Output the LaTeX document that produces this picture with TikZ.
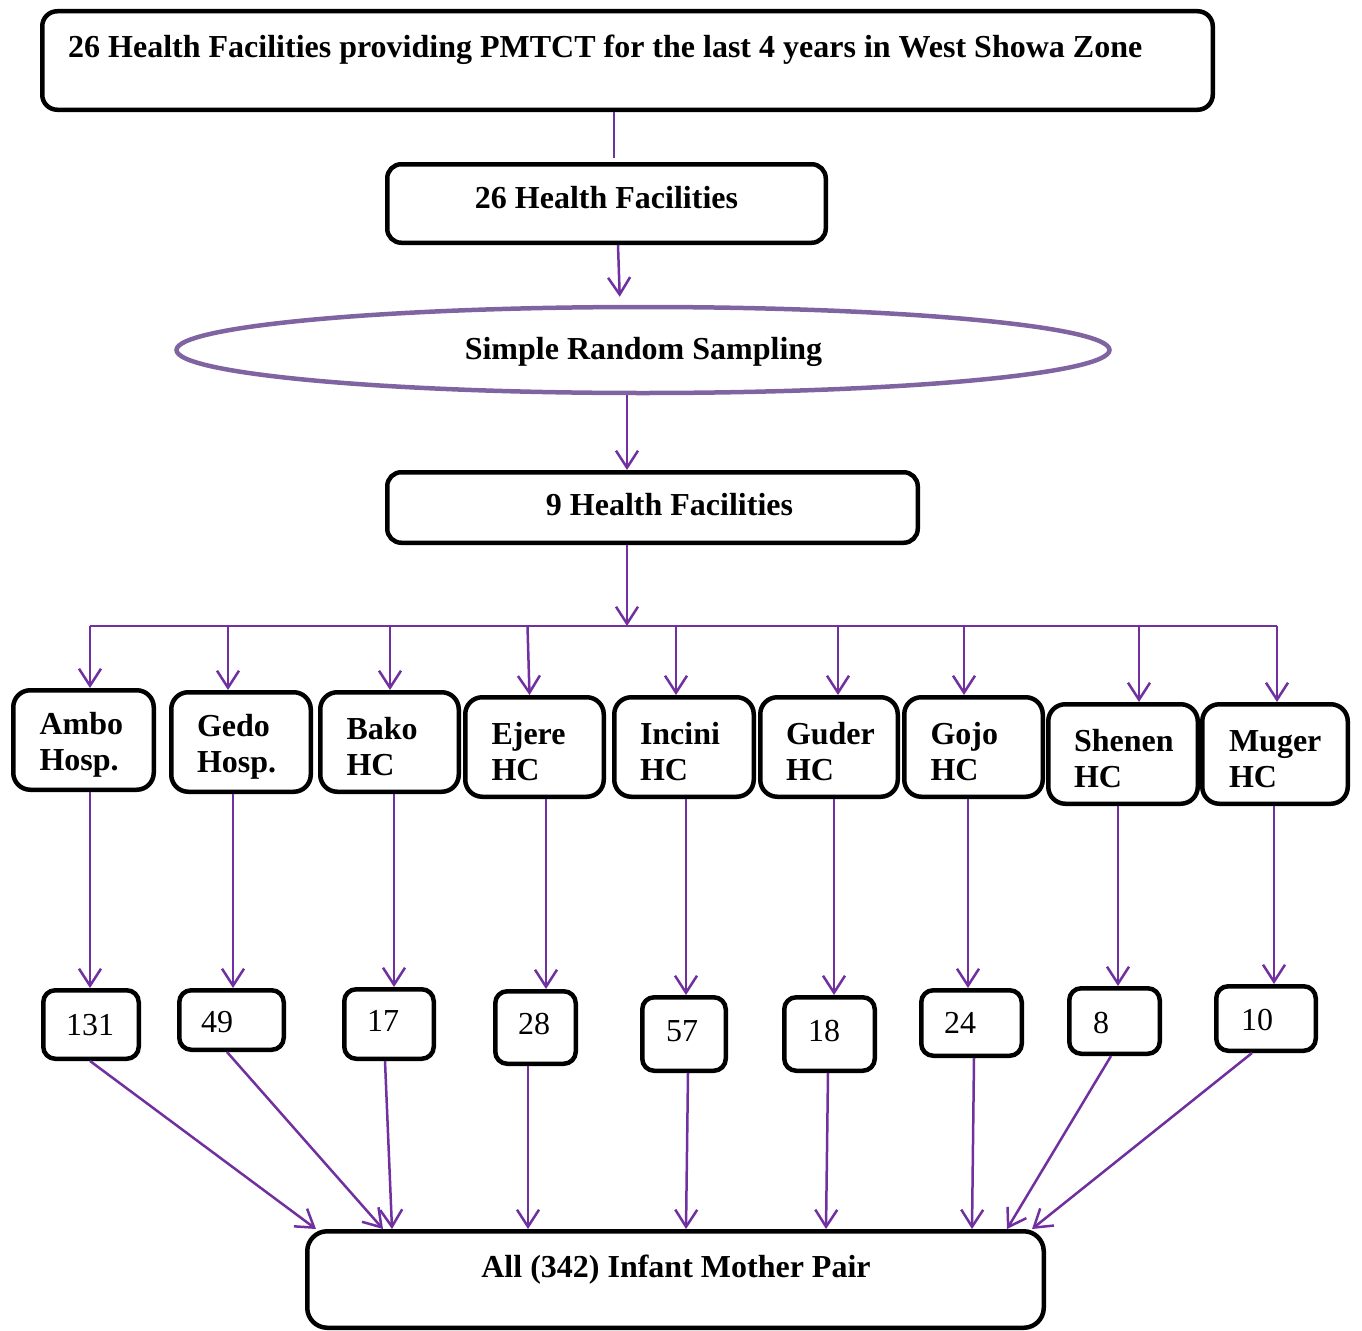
\documentclass[tikz,border=0pt]{standalone}
\usepackage{fontspec}
\setmainfont{Liberation Serif}
\usetikzlibrary{arrows.meta,shapes.geometric}
\definecolor{pur}{RGB}{112,48,160}
\definecolor{ellc}{RGB}{128,100,162}
\lefthyphenmin=64
\begin{document}
\begin{tikzpicture}[x=1pt,y=-1pt,
  every node/.style={inner sep=0pt},
  bx/.style={draw=black, line width=4.5pt},
  fac/.style={bx, rounded corners=17pt, minimum height=99.5pt},
  factxt/.style={align=left, yshift=-5pt, font=\fontsize{32}{36}\selectfont\bfseries},
  num/.style={bx, rounded corners=12pt},
  numtxt/.style={font=\fontsize{32}{36}\selectfont},
  ttl/.style={font=\fontsize{32}{36}\selectfont\bfseries},
  pline/.style={draw=pur, line width=2.5pt},
  arr/.style={pline, -{Straight Barb[length=17pt,width=22pt]}}
]
\useasboundingbox (0,0) rectangle (1362,1330);

% top box
\node[bx, rounded corners=15pt, minimum width=1170.5pt, minimum height=98.5pt] (top) at (627.5,60.5) {};
\node[ttl, anchor=base west] (toptxt) at (68,57) {26 Health Facilities providing PMTCT for the last 4 years in West Showa Zone};

% box 2
\node[bx, rounded corners=14pt, minimum width=438.5pt, minimum height=78.5pt] (hf26) at (606.5,203.5) {};
\node[ttl, anchor=base] (hf26txt) at (606.5,208) {26 Health Facilities};

% ellipse
\node[ellipse, draw=ellc, line width=4.5pt, minimum width=933pt, minimum height=86pt] (srs) at (643,350) {};
\node[ttl, anchor=base] (srstxt) at (643.5,359) {Simple Random Sampling};

% box 3
\node[bx, rounded corners=14pt, minimum width=530.5pt, minimum height=70.5pt] (hf9) at (652.5,507.5) {};
\node[ttl, anchor=base] (hf9txt) at (669.5,515) {9 Health Facilities};

% bottom box
\node[bx, rounded corners=20pt, minimum width=736.5pt, minimum height=96.5pt] (bot) at (675.5,1279.5) {};
\node[ttl, anchor=base] (bottxt) at (676,1277) {All (342) Infant Mother Pair};

% facility boxes
\node[fac, minimum width=140.5pt, label={[factxt, text width=88pt]center:{Ambo\\Hosp.}}] (f1) at (83.5,740) {};
\node[fac, minimum width=139.5pt, label={[factxt, text width=88pt]center:{Gedo\\Hosp.}}] (f2) at (241,742) {};
\node[fac, minimum width=138.5pt, label={[factxt, text width=86pt]center:{Bako\\HC}}] (f3) at (389.5,742) {};
\node[fac, minimum width=138.5pt, label={[factxt, text width=86pt]center:{Ejere\\HC}}] (f4) at (534.5,747) {};
\node[fac, minimum width=139.5pt, label={[factxt, text width=88pt]center:{Incini\\HC}}] (f5) at (684,747) {};
\node[fac, minimum width=137.5pt, label={[factxt, text width=86pt]center:{Guder\\HC}}] (f6) at (829,747) {};
\node[fac, minimum width=138.5pt, label={[factxt, text width=86pt]center:{Gojo\\HC}}] (f7) at (973.5,747) {};
\node[fac, minimum width=149.5pt, label={[factxt, text width=98pt]center:{Shenen\\HC}}] (f8) at (1123,754) {};
\node[fac, minimum width=145.5pt, label={[factxt, text width=92pt]center:{Muger\\HC}}] (f9) at (1275,754) {};

% number boxes
\node[num, minimum width=95.5pt, minimum height=68.5pt] (n1) at (91,1024.5) {};
\node[num, minimum width=104.5pt, minimum height=59.5pt] (n2) at (231.5,1020) {};
\node[num, minimum width=89.5pt, minimum height=69.5pt] (n3) at (389,1024) {};
\node[num, minimum width=80.5pt, minimum height=72.5pt] (n4) at (535.5,1027.5) {};
\node[num, minimum width=83.5pt, minimum height=73.5pt] (n5) at (684,1034) {};
\node[num, minimum width=90.5pt, minimum height=73.5pt] (n6) at (829.5,1034) {};
\node[num, minimum width=100.5pt, minimum height=65.5pt] (n7) at (971.5,1023) {};
\node[num, minimum width=90.5pt, minimum height=65.5pt] (n8) at (1114.5,1021) {};
\node[num, minimum width=99.5pt, minimum height=64.5pt] (n9) at (1266,1018.5) {};

\node[numtxt, anchor=base] (t1) at (90,1035) {131};
\node[numtxt, anchor=base] (t2) at (217,1032) {49};
\node[numtxt, anchor=base] (t3) at (383,1031) {17};
\node[numtxt, anchor=base] (t4) at (534,1034) {28};
\node[numtxt, anchor=base] (t5) at (682,1041) {57};
\node[numtxt, anchor=base] (t6) at (824,1041) {18};
\node[numtxt, anchor=base] (t7) at (960,1033) {24};
\node[numtxt, anchor=base] (t8) at (1101,1033) {8};
\node[numtxt, anchor=base] (t9) at (1257,1030) {10};

% upper connectors
\draw[pline, shorten >=4pt] ([xshift=-13.5pt]top.south) -- ([xshift=7.5pt]hf26.north);
\draw[arr, shorten >=8pt] ([xshift=11.5pt]hf26.south) -- ([xshift=-23pt]srs.north);
\draw[arr] ([xshift=-16pt]srs.south) -- ([xshift=-25.5pt]hf9.north);
\coordinate (bar) at (627,626);
\draw[arr] ([xshift=-25.5pt]hf9.south) -- (bar);
\draw[pline] ([xshift=6.5pt]f1.north |- bar) -- ([xshift=2pt]f9.north |- bar);

% branches to facilities
\draw[arr] ([xshift=6.5pt]f1.north |- bar) -- ([xshift=6.5pt]f1.north);
\draw[arr] ([xshift=-13pt]f2.north |- bar) -- ([xshift=-13pt]f2.north);
\draw[arr] ([xshift=0.5pt]f3.north |- bar) -- ([xshift=0.5pt]f3.north);
\draw[arr] ([xshift=-7pt]f4.north |- bar) -- ([xshift=-5pt]f4.north);
\draw[arr] ([xshift=-8pt]f5.north |- bar) -- ([xshift=-8pt]f5.north);
\draw[arr] ([xshift=9pt]f6.north |- bar) -- ([xshift=9pt]f6.north);
\draw[arr] ([xshift=-9.5pt]f7.north |- bar) -- ([xshift=-9.5pt]f7.north);
\draw[arr] ([xshift=16pt]f8.north |- bar) -- ([xshift=16pt]f8.north);
\draw[arr] ([xshift=2pt]f9.north |- bar) -- ([xshift=2pt]f9.north);

% facilities to numbers
\draw[arr] ([xshift=6.5pt]f1.south) -- ([xshift=-1pt]n1.north);
\draw[arr] ([xshift=-8pt]f2.south) -- ([xshift=1.5pt]n2.north);
\draw[arr] ([xshift=4.5pt]f3.south) -- ([xshift=5pt]n3.north);
\draw[arr] ([xshift=11.5pt]f4.south) -- ([xshift=10.5pt]n4.north);
\draw[arr] ([xshift=2pt]f5.south) -- ([xshift=2pt]n5.north);
\draw[arr] ([xshift=5pt]f6.south) -- ([xshift=4.5pt]n6.north);
\draw[arr] ([xshift=-5.5pt]f7.south) -- ([xshift=-3.5pt]n7.north);
\draw[arr] ([xshift=-5pt]f8.south) -- ([xshift=3.5pt]n8.north);
\draw[arr] ([xshift=-1pt]f9.south) -- ([xshift=8pt]n9.north);

% numbers to bottom
\draw[arr] ([xshift=-1pt]n1.south) -- ([xshift=11pt]bot.north west);
\draw[arr] ([xshift=-4.5pt]n2.south) -- ([xshift=78pt]bot.north west);
\draw[arr] ([xshift=-4pt]n3.south) -- ([xshift=87pt]bot.north west);
\draw[arr] ([xshift=-7.5pt]n4.south) -- ([xshift=223pt]bot.north west);
\draw[arr] ([xshift=4pt]n5.south) -- ([xshift=381pt]bot.north west);
\draw[arr] ([xshift=-1.5pt]n6.south) -- ([xshift=521pt]bot.north west);
\draw[arr] ([xshift=2.5pt]n7.south) -- ([xshift=667pt]bot.north west);
\draw[arr] ([xshift=-3.5pt]n8.south) -- ([xshift=702pt]bot.north west);
\draw[arr] ([xshift=-14pt]n9.south) -- ([xshift=727pt]bot.north west);
\end{tikzpicture}
\end{document}
